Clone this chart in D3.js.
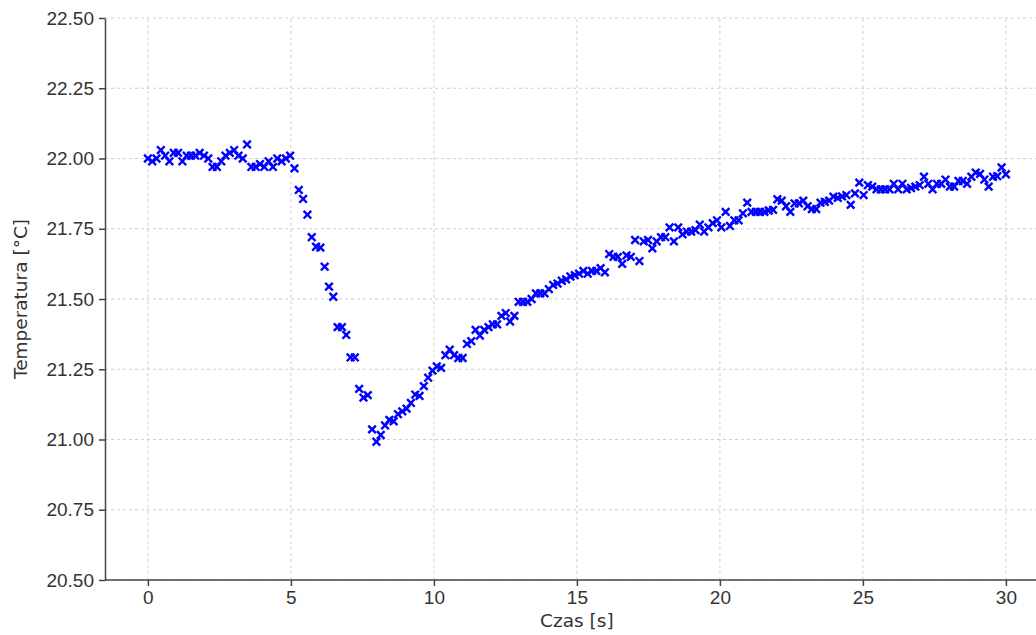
<!DOCTYPE html>
<html>
<head>
<meta charset="utf-8">
<script src="https://cdn.jsdelivr.net/npm/d3@7"></script>
<style>
  body { margin: 0; background: #fff; }
  svg { display: block; font-family: "DejaVu Sans", sans-serif; }
  .grid line { stroke: #cfcfcf; stroke-dasharray: 3,3; stroke-width: 1; }
  .axis path, .axis line { stroke: #444; stroke-width: 1.5; }
  .axis text { fill: #333; font-size: 19px; }
  .label { fill: #333; font-size: 18.5px; }
</style>
</head>
<body>
<svg id="chart"></svg>
<script>
// sample count and time span (np.linspace(0, 30, 200))
const nPoints = 200;
const tEnd = 30;

// temperature readings, one per sample
const temps = [
  22.00, 21.99, 22.00, 22.03, 22.01, 21.99, 22.02, 22.02, 21.99, 22.01,
  22.01, 22.01, 22.02, 22.01, 22.00, 21.97, 21.97, 21.99, 22.01, 22.02,
  22.03, 22.01, 22.00, 22.05, 21.97, 21.97, 21.98, 21.97, 21.99, 21.97,
  22.00, 21.99, 22.00, 22.01, 21.965, 21.888, 21.856, 21.80, 21.72, 21.686,
  21.683, 21.615, 21.544, 21.508, 21.40, 21.40, 21.372, 21.292, 21.292, 21.18,
  21.149, 21.158, 21.036, 20.992, 21.016, 21.05, 21.07, 21.065, 21.09, 21.10,
  21.11, 21.13, 21.16, 21.155, 21.19, 21.22, 21.245, 21.26, 21.255, 21.30,
  21.32, 21.30, 21.29, 21.29, 21.34, 21.35, 21.39, 21.37, 21.39, 21.40,
  21.41, 21.41, 21.44, 21.45, 21.42, 21.44, 21.49, 21.49, 21.49, 21.50,
  21.52, 21.52, 21.52, 21.535, 21.55, 21.555, 21.565, 21.57, 21.58, 21.585,
  21.59, 21.60, 21.59, 21.60, 21.60, 21.61, 21.595, 21.66, 21.65, 21.65,
  21.625, 21.655, 21.65, 21.71, 21.635, 21.705, 21.71, 21.68, 21.705, 21.72,
  21.72, 21.755, 21.705, 21.755, 21.73, 21.74, 21.74, 21.745, 21.765, 21.74,
  21.755, 21.77, 21.78, 21.755, 21.81, 21.76, 21.78, 21.78, 21.805, 21.843,
  21.81, 21.81, 21.81, 21.81, 21.815, 21.817, 21.855, 21.85, 21.83, 21.81,
  21.84, 21.84, 21.85, 21.83, 21.82, 21.82, 21.843, 21.846, 21.85, 21.864,
  21.86, 21.865, 21.87, 21.835, 21.876, 21.914, 21.87, 21.905, 21.90, 21.89,
  21.89, 21.89, 21.89, 21.91, 21.89, 21.91, 21.89, 21.895, 21.90, 21.905,
  21.935, 21.91, 21.89, 21.91, 21.91, 21.925, 21.90, 21.90, 21.92, 21.92,
  21.91, 21.935, 21.95, 21.945, 21.925, 21.90, 21.935, 21.937, 21.968, 21.944
];

const xTicks = [0, 5, 10, 15, 20, 25, 30];
const yTicks = [20.50, 20.75, 21.00, 21.25, 21.50, 21.75, 22.00, 22.25, 22.50];

const data = temps.map((v, i) => ({ t: i * tEnd / (nPoints - 1), v }));

const width = 1036, height = 635;
const margin = { top: 18, left: 105, bottom: 55 };

const svg = d3.select("#chart").attr("width", width).attr("height", height);

// x axis runs past the right edge of the picture, as in the original
const xScale = d3.scaleLinear().domain([-1.5, 31.5]).range([margin.left, margin.left + 33 * 28.6]);
const yScale = d3.scaleLinear().domain([20.5, 22.5]).range([height - margin.bottom, margin.top]);

// grid
svg.append("g").attr("class", "grid")
  .selectAll("line.v").data(xTicks).join("line")
  .attr("x1", d => xScale(d)).attr("x2", d => xScale(d))
  .attr("y1", yScale(20.5)).attr("y2", yScale(22.5));

svg.append("g").attr("class", "grid")
  .selectAll("line.h").data(yTicks).join("line")
  .attr("x1", margin.left).attr("x2", width)
  .attr("y1", d => yScale(d)).attr("y2", d => yScale(d));

// axes
const xAxis = d3.axisBottom(xScale).tickValues(xTicks).tickSize(6).tickPadding(5).tickSizeOuter(0);
const yAxis = d3.axisLeft(yScale).tickValues(yTicks).tickFormat(d3.format(".2f")).tickSize(6).tickPadding(5).tickSizeOuter(0);

svg.append("g").attr("class", "axis x-axis")
  .attr("transform", `translate(0,${yScale(20.5)})`)
  .call(xAxis)
  .call(g => g.select(".domain").attr("d", `M${margin.left},0H${width}`));

svg.append("g").attr("class", "axis y-axis")
  .attr("transform", `translate(${margin.left},0)`)
  .call(yAxis);

// markers
const cross = "M-3.8,-3.8L3.8,3.8M-3.8,3.8L3.8,-3.8";
svg.append("g")
  .selectAll("path").data(data).join("path")
  .attr("d", cross)
  .attr("transform", d => `translate(${xScale(d.t)},${yScale(d.v)})`)
  .attr("stroke", "#0000ff")
  .attr("stroke-width", 2.4)
  .attr("fill", "none");

// labels
svg.append("text").attr("class", "label")
  .attr("text-anchor", "middle")
  .attr("x", xScale(15))
  .attr("y", height - 8)
  .text("Czas [s]");

svg.append("text").attr("class", "label")
  .attr("text-anchor", "middle")
  .attr("transform", `translate(27,${yScale(21.5)}) rotate(-90)`)
  .text("Temperatura [°C]");
</script>
</body>
</html>
